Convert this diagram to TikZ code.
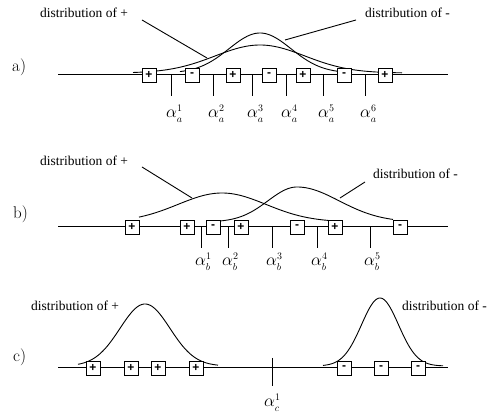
\documentclass[tikz,border=0pt]{standalone}
\usepackage{fontspec}
\newfontfamily\distfont{Liberation Serif}
\newfontfamily\boxfont{Liberation Sans}
\DeclareMathSizes{19}{19}{10}{8}
\newcommand\alab[2]{{\fontsize{19}{19}\selectfont$\alpha_{#1}^{#2}$}}
\newcommand\bell[6]{\draw[curve] plot[domain=#1:#2, samples=90, smooth] (\x, {#3 - #4*exp(-0.5*((\x-#5)/#6)^2)});}
\tikzset{
  axisline/.style={line width=1pt},
  tickline/.style={line width=0.9pt},
  curve/.style={line width=0.9pt},
  pointer/.style={line width=0.9pt},
  pbox/.style={draw, fill=white, minimum size=14pt, inner sep=0pt, line width=0.8pt,
     font=\boxfont\bfseries\fontsize{12}{12}\selectfont},
  dist/.style={anchor=base west, inner sep=0pt, font=\distfont\fontsize{13.5}{14}\selectfont},
  plabel/.style={anchor=base west, inner sep=0pt, font=\fontsize{17}{17}\selectfont},
  alabel/.style={anchor=base west, inner sep=0pt},
}
\begin{document}
\begin{tikzpicture}[x=1pt, y=-1pt]
\useasboundingbox (0,0) rectangle (491,417);

% ================= panel a =================
\node[plabel] (la) at (12,72) {a)};
\coordinate (a0) at (58,75);
\coordinate (a1) at (448,75);
\draw[axisline] (a0) -- (a1);
\foreach \t/\n in {171/1,213/2,252/3,286/4,323/5,365/6}{
  \coordinate (at\n) at (\t,75);
  \coordinate (ab\n) at (\t,96);
  \draw[tickline] (at\n) -- (ab\n);
  \node[alabel] (aal\n) at (\t-5,118) {\alab{a}{\n}};
}
\bell{133}{402}{73}{28}{260}{45}
\bell{180}{352}{73}{40}{260}{31}
\node[dist] (adp) at (40,18) {distribution of +};
\node[dist] (adm) at (365,18) {distribution of -};
\coordinate (apa) at (142,20);
\coordinate (apb) at (207,58);
\coordinate (ama) at (356,20);
\coordinate (amb) at (285,40);
\draw[pointer] (apa) -- (apb);
\draw[pointer] (ama) -- (amb);
\foreach \x/\s/\n in {149/+/1,192/-/2,233/+/3,269/-/4,303/+/5,344/-/6,385/+/7}{
  \node[pbox] (abx\n) at (\x,75) {\s};
}

% ================= panel b =================
\node[plabel] (lb) at (13,219) {b)};
\coordinate (b0) at (58,227);
\coordinate (b1) at (448,227);
\draw[axisline] (b0) -- (b1);
\foreach \t/\n in {201/1,228/2,272/3,317/4,370/5}{
  \coordinate (bt\n) at (\t,227);
  \coordinate (bb\n) at (\t,248);
  \draw[tickline] (bt\n) -- (bb\n);
  \node[alabel] (bal\n) at (\t-6,266) {\alab{b}{\n}};
}
\bell{139}{328}{222}{29}{222}{44}
\draw[curve] plot[domain=220:297, samples=60, smooth] (\x,{222-35*exp(-0.5*((\x-297)/29)^2)})
   -- plot[domain=297:393, samples=60, smooth] (\x,{222-35*exp(-0.5*((\x-297)/42)^2)});
\node[dist] (bdp) at (40,166) {distribution of +};
\node[dist] (bdm) at (373,179) {distribution of -};
\coordinate (bpa) at (142,167);
\coordinate (bpb) at (192,198);
\coordinate (bma) at (365,182);
\coordinate (bmb) at (340,198);
\draw[pointer] (bpa) -- (bpb);
\draw[pointer] (bma) -- (bmb);
\foreach \x/\s/\n in {132/+/1,187/+/2,213/-/3,241/+/4,297/-/5,335/+/6,400/-/7}{
  \node[pbox] (bbx\n) at (\x,227) {\s};
}

% ================= panel c =================
\node[plabel] (lc) at (13,362) {c)};
\coordinate (c0) at (58,368);
\coordinate (c1) at (448,368);
\draw[axisline] (c0) -- (c1);
\coordinate (ct1) at (272,358);
\coordinate (cb1) at (272,386);
\draw[tickline] (ct1) -- (cb1);
\node[alabel] (cal1) at (264,407) {\alab{c}{1}};
\bell{78}{218}{366}{62}{145}{25}
\bell{323}{443}{366}{68}{380}{18.5}
\node[dist] (cdp) at (31,311) {distribution of +};
\node[dist] (cdm) at (402,311) {distribution of -};
\foreach \x/\s/\n in {93/+/1,131/+/2,158/+/3,196/+/4}{
  \node[pbox] (cpx\n) at (\x,368) {\s};
}
\foreach \x/\s/\n in {344/-/1,381/-/2,418/-/3}{
  \node[pbox] (cmx\n) at (\x,368) {\s};
}
\end{tikzpicture}
\end{document}
